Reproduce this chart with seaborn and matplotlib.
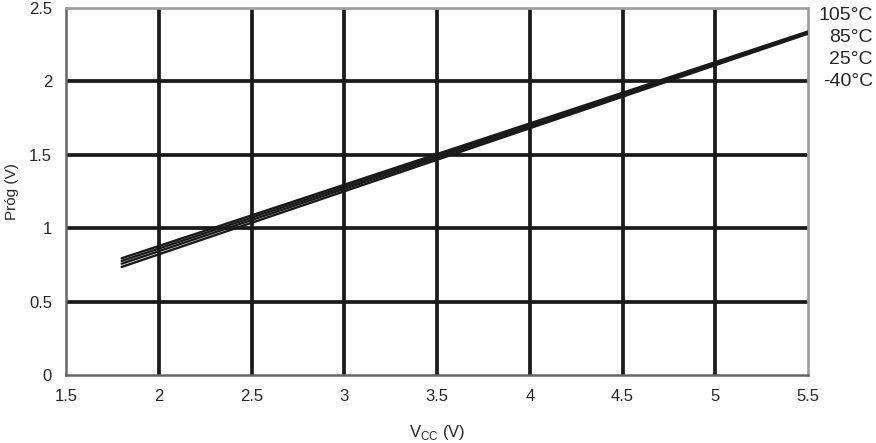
import matplotlib
matplotlib.use("Agg")
import matplotlib.pyplot as plt
import seaborn as sns
import pandas as pd

vcc = [1.8, 5.5]
series = {
    "105°C": [0.795, 2.340],
    "85°C": [0.777, 2.335],
    "25°C": [0.758, 2.330],
    "-40°C": [0.736, 2.325],
}
label_order = ["105°C", "85°C", "25°C", "-40°C"]
x_ticks = [1.5, 2, 2.5, 3, 3.5, 4, 4.5, 5, 5.5]
y_ticks = [0, 0.5, 1, 1.5, 2, 2.5]

rows = []
for name, vals in series.items():
    for x, y in zip(vcc, vals):
        rows.append({"Vcc": x, "Prog": y, "T": name})
df = pd.DataFrame(rows)

sns.set_style("white")
plt.rcParams["font.family"] = ["Liberation Sans", "DejaVu Sans"]

fig = plt.figure(figsize=(8.76, 4.43), dpi=100)
ax = fig.add_axes([66/876, 1-375/443, (808-66)/876, (375-8)/443])

for xv in x_ticks[1:-1]:
    ax.axvline(xv, color="#1a1a1a", lw=2.7, zorder=1)
for yv in y_ticks[1:-1]:
    ax.axhline(yv, color="#1a1a1a", lw=2.7, zorder=1)

sns.lineplot(data=df, x="Vcc", y="Prog", hue="T", hue_order=label_order,
             palette=["#1a1a1a"]*4, lw=1.7, legend=False, ax=ax, zorder=3)

ax.set_xlim(1.5, 5.5)
ax.set_ylim(0, 2.5)
ax.set_xticks(x_ticks)
ax.set_xticklabels([f"{v:g}" for v in x_ticks])
ax.set_yticks(y_ticks)
ax.set_yticklabels([f"{v:g}" for v in y_ticks])
ax.tick_params(axis="both", direction="out", length=5, width=1.2, color="#555555",
               labelsize=12, pad=5)
for s in ["left", "bottom"]:
    ax.spines[s].set_color("#666666")
    ax.spines[s].set_linewidth(1.8)
for s in ["top", "right"]:
    ax.spines[s].set_color("#a0a0a0")
    ax.spines[s].set_linewidth(2.0)

ax.set_xlabel("V$_{\\mathregular{CC}}$ (V)", fontsize=12, labelpad=14)
ax.set_ylabel("Próg (V)", fontsize=11)
ax.yaxis.set_label_coords((19-66)/742, 0.5)

label_y = [16, 37, 59, 81]
for name, py in zip(label_order, label_y):
    fig.text(873/876, 1-py/443, name, ha="right", va="center", fontsize=14)

fig.savefig("out.png", dpi=100)
